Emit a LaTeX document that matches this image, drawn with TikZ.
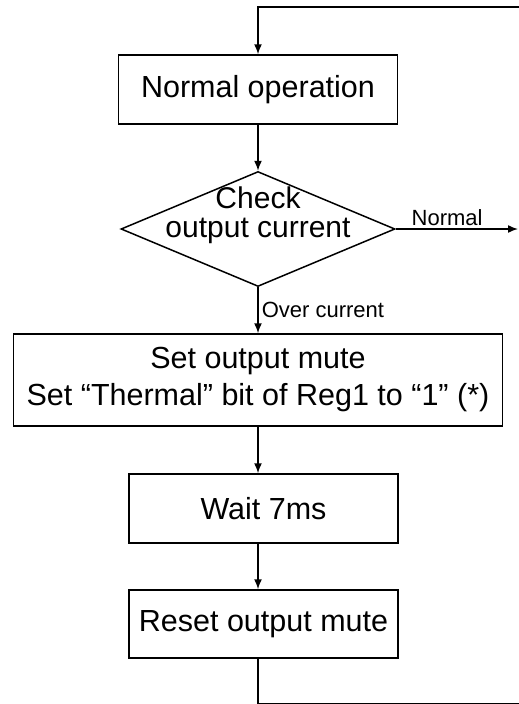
\documentclass[tikz,border=0pt]{standalone}
\usepackage{fontspec}
\setmainfont{Liberation Sans}
\usetikzlibrary{arrows.meta,shapes.geometric}

\begin{document}
\begin{tikzpicture}[x=1pt,y=1pt,line width=1.5pt,>={Latex[length=10pt,width=8pt]}]
    \useasboundingbox (0,0) rectangle (519,-704);
    \begin{scope}[every node/.style={draw,rectangle,inner sep=0pt,font=\fontsize{30.5}{37}\selectfont,align=center}]
      \node[minimum width=279pt,minimum height=69pt] (normal) at (258,-89.5) {Normal operation};
      \node[minimum width=489pt,minimum height=92pt] (mute) at (258,-380) {Set output mute\\Set “Thermal” bit of Reg1 to “1” (*)};
      \node[minimum width=269pt,minimum height=69pt] (wait) at (263.5,-508.5) {Wait 7ms};
      \node[minimum width=269pt,minimum height=68pt] (reset) at (263.5,-624) {Reset output mute};
    \end{scope}
    \node[draw,diamond,inner sep=0pt,minimum width=274pt,minimum height=115pt] (check) at (258,-229) {};
    \node[font=\fontsize{30}{29.5}\selectfont,align=center,inner sep=0pt] (checktext) at ([yshift=14pt]check.center) {Check\\output current};
    \coordinate (loopin) at (519,-7);
    \coordinate (normalout) at (518,-229);
    \coordinate (loopdown) at (258,-704);
    \coordinate (loopend) at (519,-704);
    \begin{scope}[every node/.style={font=\fontsize{22}{26}\selectfont,inner sep=3pt}]
      \draw[->] (loopin) -| (normal.north);
      \draw[->] (normal.south) -- (check.north);
      \draw[->] (check.east) -- node[above,pos=0.42] {Normal} (normalout);
      \draw[->] (check.south) -- node[right,midway] {Over current} (mute.north);
      \draw[->] (mute.south) -- (mute.south |- wait.north);
      \draw[->] (wait.south -| mute.south) -- (reset.north -| mute.south);
      \draw (reset.south -| mute.south) -- (loopdown) -- (loopend);
    \end{scope}
  \end{tikzpicture}
\end{document}
